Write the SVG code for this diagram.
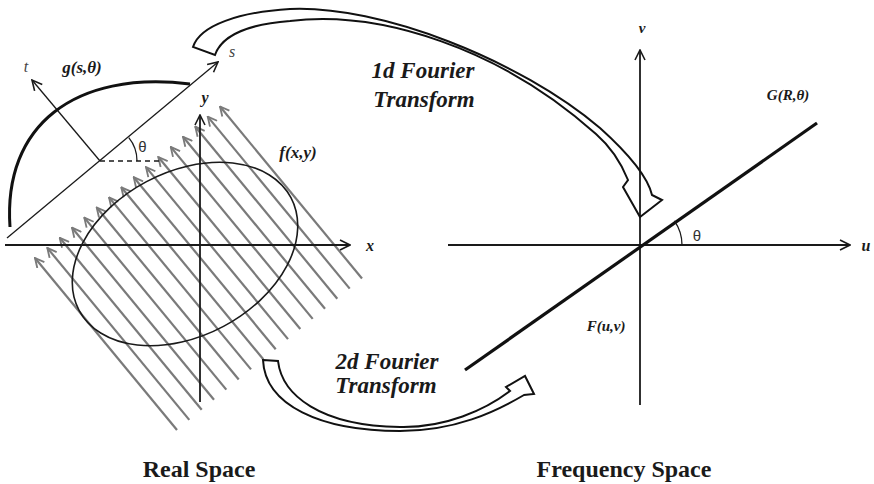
<svg xmlns="http://www.w3.org/2000/svg" width="874" height="484" viewBox="0 0 874 484">
<style>
.ax{stroke:#1a1a1a;stroke-width:1.8;fill:none}
.thin{stroke:#1a1a1a;stroke-width:1.3;fill:none}
.proj{stroke:#7a7a7a;stroke-width:2.2;fill:none}
.lbl{font-family:"Liberation Serif",serif;font-weight:bold;font-style:italic;fill:#1a1a1a}
.it{font-family:"Liberation Serif",serif;font-style:italic;fill:#444}
.sans{font-family:"Liberation Sans",sans-serif;fill:#333}
.title{font-family:"Liberation Serif",serif;font-weight:bold;fill:#1a1a1a;font-size:24px;text-anchor:middle}
.farrow{stroke:#111;stroke-width:2;stroke-linejoin:miter}
</style>
<defs>
<marker id="ah" viewBox="0 0 12 12" refX="11" refY="6" markerWidth="12" markerHeight="12" markerUnits="userSpaceOnUse" orient="auto">
<path d="M1,1 L11,6 L1,11" fill="none" stroke="#1a1a1a" stroke-width="1.6"/>
</marker>
<marker id="ahg" viewBox="0 0 12 12" refX="11" refY="6" markerWidth="11" markerHeight="11" markerUnits="userSpaceOnUse" orient="auto">
<path d="M1,1 L11,6 L1,11" fill="none" stroke="#7a7a7a" stroke-width="2"/>
</marker>
</defs>
<rect width="874" height="484" fill="#fff"/>

<g id="projections">
<line class="proj" x1="177" y1="430" x2="35" y2="258" marker-end="url(#ahg)"/>
<line class="proj" x1="189.3" y1="419.9" x2="47.3" y2="247.9" marker-end="url(#ahg)"/>
<line class="proj" x1="201.7" y1="409.8" x2="59.7" y2="237.8" marker-end="url(#ahg)"/>
<line class="proj" x1="214" y1="399.7" x2="72" y2="227.7" marker-end="url(#ahg)"/>
<line class="proj" x1="226.3" y1="389.6" x2="84.3" y2="217.6" marker-end="url(#ahg)"/>
<line class="proj" x1="238.7" y1="379.5" x2="96.7" y2="207.5" marker-end="url(#ahg)"/>
<line class="proj" x1="251" y1="369.4" x2="109" y2="197.4" marker-end="url(#ahg)"/>
<line class="proj" x1="263.3" y1="359.3" x2="121.3" y2="187.3" marker-end="url(#ahg)"/>
<line class="proj" x1="275.7" y1="349.2" x2="133.7" y2="177.2" marker-end="url(#ahg)"/>
<line class="proj" x1="288" y1="339.1" x2="146" y2="167.1" marker-end="url(#ahg)"/>
<line class="proj" x1="300.3" y1="329" x2="158.3" y2="157" marker-end="url(#ahg)"/>
<line class="proj" x1="312.7" y1="318.9" x2="170.7" y2="146.9" marker-end="url(#ahg)"/>
<line class="proj" x1="325" y1="308.8" x2="183" y2="136.8" marker-end="url(#ahg)"/>
<line class="proj" x1="337.3" y1="298.7" x2="195.3" y2="126.7" marker-end="url(#ahg)"/>
<line class="proj" x1="349.7" y1="288.6" x2="207.7" y2="116.6" marker-end="url(#ahg)"/>
<line class="proj" x1="362" y1="278.5" x2="220" y2="106.5" marker-end="url(#ahg)"/>
</g>

<g id="object">
<ellipse cx="185" cy="254" rx="120" ry="82" transform="rotate(-28 185 254)" fill="none" stroke="#1a1a1a" stroke-width="1.6"/>
<text class="lbl" x="298" y="158" font-size="17" text-anchor="middle">f(x,y)</text>
</g>

<g id="real-axes">
<line class="ax" x1="5" y1="245" x2="350" y2="245" marker-end="url(#ah)"/>
<line class="ax" x1="200" y1="402" x2="200" y2="115" marker-end="url(#ah)"/>
<text class="lbl" x="370" y="251" font-size="16" text-anchor="middle">x</text>
<text class="lbl" x="205" y="103" font-size="16" text-anchor="middle">y</text>
</g>

<g id="rotated-frame">
<line class="thin" x1="7" y1="238" x2="218" y2="62" marker-end="url(#ah)"/>
<line class="thin" x1="100" y1="161" x2="32" y2="80" marker-end="url(#ah)"/>
<line x1="100" y1="161" x2="160" y2="161" stroke="#1a1a1a" stroke-width="1.5" stroke-dasharray="5,4"/>
<path class="thin" d="M137,161 A37,37 0 0 0 128.8,137.7"/>
<text class="sans" x="142.5" y="152" font-size="15" text-anchor="middle">θ</text>
<text class="it" x="232" y="57" font-size="16" text-anchor="middle">s</text>
<text class="it" x="26" y="72" font-size="16" text-anchor="middle">t</text>
</g>

<g id="projection-profile">
<path d="M10,227 C3,125 75,70 190,84" fill="none" stroke="#111" stroke-width="3"/>
<text class="lbl" x="82" y="73" font-size="17" text-anchor="middle">g(s,θ)</text>
</g>

<g id="freq-axes">
<line class="ax" x1="448" y1="245" x2="850" y2="245" marker-end="url(#ah)"/>
<line class="ax" x1="640" y1="405" x2="640" y2="50" marker-end="url(#ah)"/>
<text class="lbl" x="866" y="251" font-size="16" text-anchor="middle">u</text>
<text class="lbl" x="642" y="33" font-size="15" text-anchor="middle">v</text>
</g>

<g id="radial-line">
<line x1="465" y1="370" x2="817" y2="123" stroke="#111" stroke-width="3.2"/>
<path class="thin" d="M682,245 A42,42 0 0 0 674.4,220.9"/>
<text class="sans" x="697" y="241" font-size="15" text-anchor="middle">θ</text>
<text class="lbl" x="788" y="100" font-size="15" text-anchor="middle">G(R,θ)</text>
<text class="lbl" x="606" y="331" font-size="15" text-anchor="middle">F(u,v)</text>
</g>

<g id="connectors">
<path class="farrow" fill="none" d="M193,47 C200,25 240,12 290,9 C380,5 520,60 600,128 C630,155 648,178 652,195 L662,200 L640,217 L623,187 L628,180 C622,165 612,148 596,134 C500,48 380,10 290,21 C250,24 222,35 215,55 Z"/>
<path class="farrow" fill="#fff" d="M263,360 L278,361 C282,395 320,426 400,427 C445,428 485,410 510,391 L506,387 L525,376 L534,394 L524,395 C495,412 455,431 400,431 C320,431 265,405 263,360 Z"/>
</g>

<g id="labels">
<text class="lbl" x="423" y="78" font-size="23" text-anchor="middle">1d Fourier</text>
<text class="lbl" x="424" y="107" font-size="23" text-anchor="middle">Transform</text>
<text class="lbl" x="387" y="369" font-size="23" text-anchor="middle">2d Fourier</text>
<text class="lbl" x="386" y="393" font-size="23" text-anchor="middle">Transform</text>
<text class="title" x="199" y="477">Real Space</text>
<text class="title" x="624" y="477" font-size="25">Frequency Space</text>
</g>
</svg>
